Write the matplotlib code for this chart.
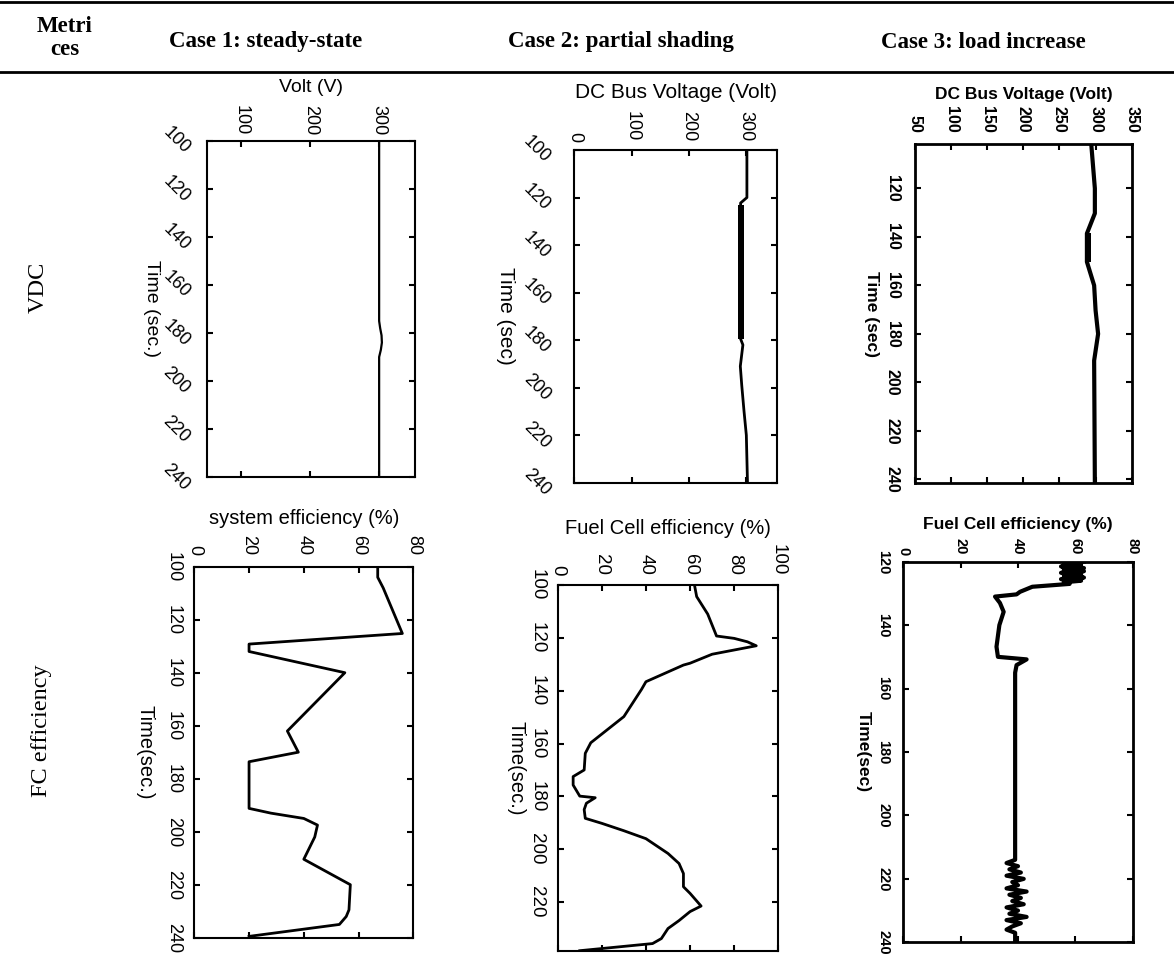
import matplotlib
matplotlib.use("Agg")
import matplotlib.pyplot as plt

# ---- header / table text ----
row_names = ["VDC", "FC efficiency"]
case_names = ["Case 1: steady-state", "Case 2: partial shading", "Case 3: load increase"]

# ---- Case 1: DC bus voltage ----
c1_t = [100, 175, 178, 181, 184, 187, 190, 240]
c1_v = [300, 300, 301.5, 303.5, 304, 302.5, 300, 300]

# ---- Case 2: DC bus voltage ----
c2_t = [100, 120, 122.3, 179.5, 182, 191, 199, 210, 220, 230, 240]
c2_v = [301, 301, 290, 290, 294, 289.5, 292, 296, 300, 301, 302]
c2_band_t = [123, 179.5]
c2_band_lo = [286, 286]
c2_band_hi = [296, 296]

# ---- Case 3: DC bus voltage ----
c3_t = [101.7, 120, 130.3, 138.6, 150.3, 160, 170.3, 180, 191, 241.6]
c3_v = [294, 299, 299, 288, 288, 298, 300, 303.5, 298, 299]
c3_band_t = [138.6, 150.3]
c3_band_lo = [285, 285]
c3_band_hi = [294, 294]

# ---- Case 1: system efficiency ----
e1_t = [100, 104, 108, 125.2, 129.2, 132, 140, 162, 170, 173.6, 191.2, 193,
        195, 197.5, 202, 210.4, 220, 229.5, 232, 235, 239.5]
e1_v = [67, 67, 69, 76, 20, 20, 55, 34, 38, 20, 20, 28,
        40, 45, 44, 40, 57, 56.5, 55.5, 53, 20]

# ---- Case 2: fuel cell efficiency ----
e2_t = [100, 104.4, 111, 119.3, 120.2, 121.5, 123, 124.6, 126.2, 129.6, 130.3,
        136.6, 139.5, 149.8, 159.7, 163.7, 170, 172.5, 175.7, 179.9, 180.5,
        182.6, 185, 188.3, 190.2, 193, 196, 201.6, 205.4, 209.2, 214.2, 216.7,
        221.5, 223.6, 227, 230, 233.8, 235.7, 238.4]
e2_v = [62, 63, 68, 72, 80, 86, 90, 80, 70, 60, 57,
        40, 38, 30, 15, 12.5, 12, 7, 7, 10, 17,
        13, 12, 12.5, 20, 30, 40, 50, 55, 57, 57, 60,
        65, 60, 55, 50, 47, 43, 10]

# ---- Case 3: fuel cell efficiency ----
e3_t = [120, 120.5, 121, 121.5, 122, 122.5, 123, 123.5, 124, 124.5, 125, 125.5,
        126, 126.5, 127, 127.9, 129.5, 130.3, 131, 133, 135.8, 140, 146.8, 150,
        150.8, 152.6, 155, 214, 215, 216, 217, 218, 219, 220, 221, 222, 223,
        224, 225, 226, 227, 228, 229, 230, 231, 232, 233, 234, 235, 236, 237, 240]
e3_v = [63, 56, 62, 55, 63, 56, 63, 55, 62, 56, 63, 55,
        62, 56, 58, 45, 40.7, 39.5, 32, 33.7, 35, 33.5, 32.5, 33,
        43, 39.5, 39, 39, 36, 40, 37, 41, 36, 42, 38, 40, 36,
        43, 37, 41, 38, 42, 36, 40, 37, 43, 36, 41, 38, 36, 39, 39]

W, H = 1174, 959
fig = plt.figure(figsize=(W / 100, H / 100), dpi=100)


def add_ax(left, top, right, bottom):
    ax = fig.add_axes([left / W, 1 - bottom / H, (right - left) / W, (bottom - top) / H])
    ax.box_px = (left, top, right, bottom)
    return ax


def style(ax, bold=False, lw=1.5, tsize=11, trot=-90, xpad=3, ypad=8):
    w = "bold" if bold else "normal"
    ax.invert_yaxis()
    ax.xaxis.tick_top()
    ax.xaxis.set_label_position("top")
    ax.tick_params(direction="in", top=True, bottom=True, left=True, right=True,
                   labelbottom=False, labeltop=True, length=4, width=1.5,
                   labelsize=tsize)
    ax.tick_params(axis="x", pad=xpad)
    ax.tick_params(axis="y", pad=ypad)
    for lab in ax.get_xticklabels():
        lab.set_rotation(-90)
        lab.set_fontweight(w)
    for lab in ax.get_yticklabels():
        lab.set_rotation(trot)
        lab.set_fontweight(w)
        lab.set_va("center")
    for s in ax.spines.values():
        s.set_linewidth(lw)


def labels(ax, xtext, ytext, xlab_y, ylab_x, size, bold=False):
    # place axis labels by pixel centre (x label above, y label left, reading downward)
    left, top, right, bottom = ax.box_px
    w = "bold" if bold else "normal"
    ax.set_xlabel(xtext, fontsize=size, fontweight=w, ha="center", va="center")
    ax.xaxis.set_label_coords(0.5, 1 + (top - xlab_y) / (bottom - top))
    ax.set_ylabel(ytext, fontsize=size, fontweight=w, rotation=-90,
                  rotation_mode="default", ha="center", va="center")
    ax.yaxis.set_label_coords((ylab_x - left) / (right - left), 0.5)


plt.rcParams["font.family"] = ["Liberation Sans", "DejaVu Sans"]

# panel 1
ax = add_ax(206.7, 141, 415, 477)
ax.plot(c1_v, c1_t, color="black", lw=1.6)
ax.set_xlim(50, 352)
ax.set_ylim(100, 240)
ax.set_xticks([100, 200, 300])
ax.set_yticks(range(100, 241, 20))
style(ax, tsize=13, trot=-45, xpad=4, ypad=10)
labels(ax, "Volt (V)", "Time (sec.)", 88, 151, 14)

# panel 2
ax = add_ax(574.3, 150, 777.3, 482.7)
ax.fill_betweenx(c2_band_t, c2_band_lo, c2_band_hi, color="black", lw=0)
ax.plot(c2_v, c2_t, color="black", lw=2)
ax.set_xlim(0, 354)
ax.set_ylim(100, 240)
ax.set_xticks([0, 100, 200, 300])
ax.set_yticks(range(100, 241, 20))
style(ax, tsize=13, trot=-45, xpad=6, ypad=15)
labels(ax, "DC Bus Voltage (Volt)", "Time (sec)", 92, 505, 15)

# panel 3
ax = add_ax(915, 144, 1131.7, 483.3)
ax.fill_betweenx(c3_band_t, c3_band_lo, c3_band_hi, color="black", lw=0)
ax.plot(c3_v, c3_t, color="black", lw=3)
ax.set_xlim(50, 350)
ax.set_ylim(101.7, 241.6)
ax.set_xticks(range(50, 351, 50))
ax.set_yticks(range(120, 241, 20))
style(ax, bold=True, lw=2, tsize=11.5, xpad=8, ypad=11)
labels(ax, "DC Bus Voltage (Volt)", "Time (sec)", 95, 872, 12.5, bold=True)

# panel 4
ax = add_ax(194.3, 566.7, 413.3, 937.7)
ax.plot(e1_v, e1_t, color="black", lw=2)
ax.set_xlim(0, 80)
ax.set_ylim(100, 240)
ax.set_xticks(range(0, 81, 20))
ax.set_yticks(range(100, 241, 20))
style(ax, tsize=13, xpad=8.5, ypad=9)
labels(ax, "system efficiency (%)", "Time(sec.)", 518, 145, 14.5)

# panel 5
ax = add_ax(557.7, 585, 778.3, 950.7)
ax.plot(e2_v, e2_t, color="black", lw=2)
ax.set_xlim(0, 100)
ax.set_ylim(100, 238.4)
ax.set_xticks(range(0, 101, 20))
ax.set_yticks(range(100, 221, 20))
style(ax, tsize=13.5, xpad=7, ypad=9)
labels(ax, "Fuel Cell efficiency (%)", "Time(sec.)", 528, 516, 14.5)

# panel 6
ax = add_ax(903.3, 561.7, 1132.7, 942.3)
ax.plot(e3_v, e3_t, color="black", lw=3)
ax.set_xlim(0, 80)
ax.set_ylim(120, 240)
ax.set_xticks(range(0, 81, 20))
ax.set_yticks(range(120, 241, 20))
style(ax, bold=True, lw=2, tsize=10.5, xpad=5, ypad=9.5)
labels(ax, "Fuel Cell efficiency (%)", "Time(sec)", 525, 863, 12.5, bold=True)

# ---- table rules and text ----
fig.add_artist(plt.Line2D([0, 1], [1 - 2 / H, 1 - 2 / H], color="black", lw=2))
fig.add_artist(plt.Line2D([0, 1], [1 - 72 / H, 1 - 72 / H], color="black", lw=2))
serif = ["Liberation Serif", "DejaVu Serif"]
fig.text(65 / W, 1 - 38 / H, "Metri\nces", family=serif, fontweight="bold", fontsize=16.5,
         ha="center", va="center", linespacing=1.1)
for cx, name in zip([266, 621, 983], case_names):
    fig.text(cx / W, 1 - 42 / H, name, family=serif, fontweight="bold", fontsize=16.5,
             ha="center", va="center")
fig.text(38 / W, 1 - 287 / H, row_names[0], family=serif, fontsize=17.5, rotation=90,
         ha="center", va="center")
fig.text(42 / W, 1 - 731 / H, row_names[1], family=serif, fontsize=17.5, rotation=90,
         ha="center", va="center")

fig.savefig("out.png", dpi=100)
